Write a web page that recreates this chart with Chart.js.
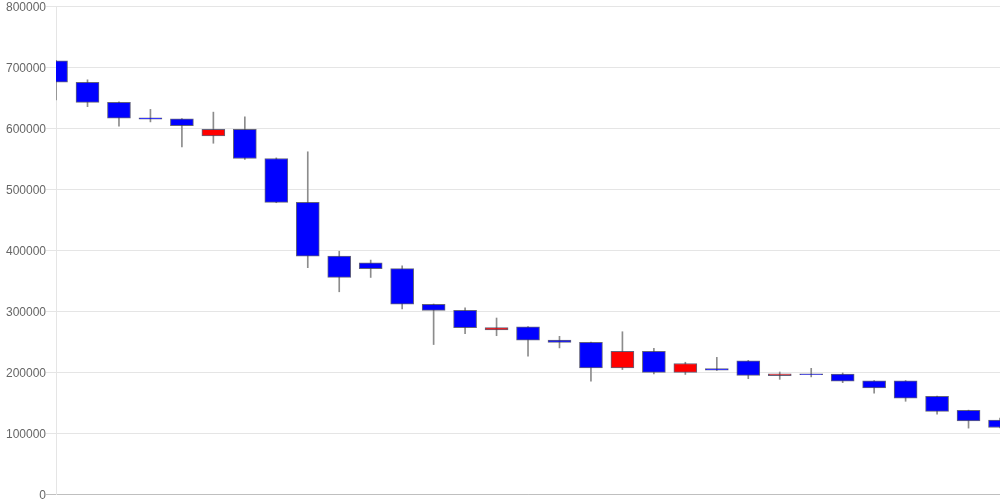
<!DOCTYPE html>
<html>
<head>
<meta charset="utf-8">
<script src="https://cdn.jsdelivr.net/npm/chart.js"></script>
<style>
    html, body { margin: 0; padding: 0; background: #fff; }
    #wrap { width: 1000px; height: 500px; }
</style>
</head>
<body>
<div id="wrap"><canvas id="myChart" width="1000" height="500"></canvas></div>
<script>
// =============================================
// candlestick data
// =============================================

const labels = [
    "1", "2", "3", "4", "5", "6", "7", "8", "9", "10",
    "11", "12", "13", "14", "15", "16", "17", "18", "19", "20",
    "21", "22", "23", "24", "25", "26", "27", "28", "29", "30", "31",
];

const openValues = [
    710000, 675000, 642000, 616500, 615000, 587000, 598000, 550000, 478000, 390000,
    379000, 369500, 311000, 301000, 269000, 274000, 252500, 248500, 206500, 234000,
    199500, 205500, 218500, 194000, 197000, 196500, 185500, 185500, 160000, 137000, 121000,
];

const highValues = [
    711000, 679000, 643000, 630500, 615500, 626000, 618500, 551000, 561000, 398000,
    383500, 374000, 311500, 305000, 288500, 274500, 258500, 249000, 266000, 239000,
    216000, 224000, 219000, 200000, 206000, 198500, 186000, 186000, 160500, 137500, 124500,
];

const lowValues = [
    646000, 635000, 603000, 610000, 569000, 575000, 548500, 477500, 371000, 331500,
    355000, 303500, 245000, 263000, 259500, 226000, 239500, 185000, 204000, 197000,
    196000, 202500, 189000, 188000, 192000, 182500, 165500, 152000, 131000, 108000, 108500,
];

const closeValues = [
    675000, 642000, 616000, 614500, 604000, 598000, 550000, 478000, 390000, 355000,
    369500, 311000, 301000, 272500, 273000, 252000, 248500, 206500, 234000, 199500,
    214000, 203000, 194500, 197000, 195500, 185000, 174000, 157000, 135500, 120000, 109000,
];

const yTicks = { min: 0, max: 800000, step: 100000 };

const upColor = "#ff0000";
const downColor = "#0000ff";

function candleColors() {
    return openValues.map((o, i) => (closeValues[i] >= o ? upColor : downColor));
}

function initChart(ctx) {
    const config = {
        type: "bar",
        data: {
            labels: labels,
            datasets: [
                {
                    label: "body",
                    data: openValues.map((o, i) => [o, closeValues[i]]),
                    backgroundColor: candleColors(),
                    borderColor: "rgba(60,60,90,0.8)",
                    borderWidth: 1,
                    borderSkipped: false,
                    barThickness: 23,
                    grouped: false,
                    clip: 0,
                },
                {
                    label: "wick",
                    data: lowValues.map((l, i) => [l, highValues[i]]),
                    backgroundColor: "#8c8c8c",
                    borderWidth: 0,
                    barThickness: 1,
                    grouped: false,
                    clip: 0,
                },
            ],
        },
        options: {
            responsive: false,
            animation: false,
            layout: { padding: { left: 6 } },
            plugins: {
                legend: { display: false },
                tooltip: { enabled: false },
            },
            scales: {
                x: {
                    display: false,
                    offset: false,
                },
                y: {
                    min: yTicks.min,
                    max: yTicks.max,
                    ticks: {
                        stepSize: yTicks.step,
                        color: "#666",
                        padding: 0,
                        labelOffset: 2,
                        font: { size: 12, lineHeight: 1 },
                        callback: (value) => String(value),
                    },
                    grid: {
                        tickLength: 10,
                        color: (c) => (c.tick && c.tick.value === 0 ? "rgba(0,0,0,0.25)" : "rgba(0,0,0,0.1)"),
                    },
                    border: { color: "rgba(0,0,0,0.1)" },
                },
            },
        },
    };
    return new Chart(ctx, config);
}

initChart(document.querySelector("#myChart"));
</script>
</body>
</html>
